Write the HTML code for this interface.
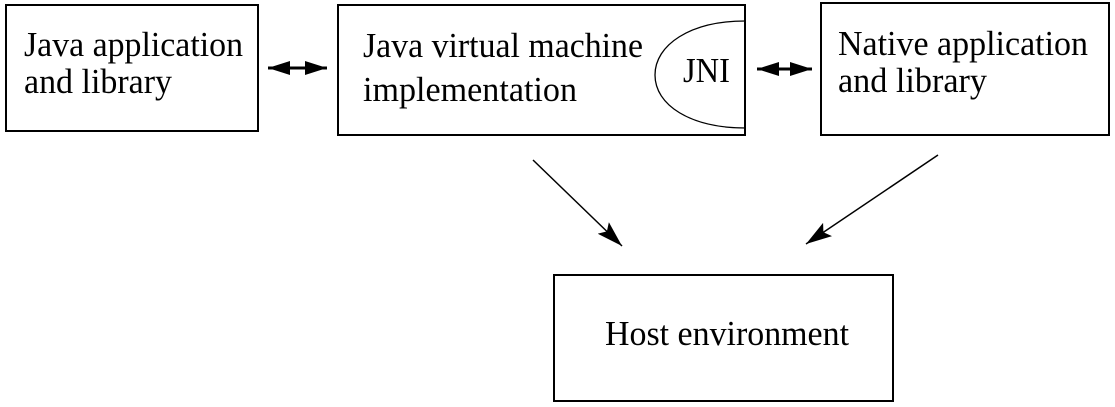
<!DOCTYPE html>
<html><head><meta charset="utf-8"><style>
html,body{margin:0;padding:0;background:#fff;}
svg{display:block;}
text{font-family:"Liberation Serif",serif;font-size:35px;fill:#000;}
</style></head><body>
<svg width="1115" height="407" viewBox="0 0 1115 407" xmlns="http://www.w3.org/2000/svg">
<defs>
<marker id="big" viewBox="0 0 26 16" refX="26" refY="8" markerWidth="26" markerHeight="16" orient="auto" markerUnits="userSpaceOnUse">
<path d="M0,0 L26,8 L0,16 L5,8 z" fill="#000"/>
</marker>
<marker id="dbl" viewBox="0 0 22 14" refX="22" refY="7" markerWidth="22" markerHeight="14" orient="auto-start-reverse" markerUnits="userSpaceOnUse">
<path d="M0,0 L22,7 L0,14 z" fill="#000"/>
</marker>
</defs>
<g fill="none" stroke="#000" stroke-width="2">
<rect x="6" y="5" width="252" height="126"/>
<rect x="338" y="5" width="407" height="130"/>
<rect x="821" y="3" width="288" height="132"/>
<rect x="554" y="275" width="339" height="126"/>
</g>
<path d="M745,21 C690,21 655,45 655,75 C655,105 690,128 746,128" fill="none" stroke="#000" stroke-width="1.3"/>
<line x1="268" y1="68" x2="327" y2="68" stroke="#000" stroke-width="3" marker-start="url(#dbl)" marker-end="url(#dbl)"/>
<line x1="757" y1="69" x2="812" y2="69" stroke="#000" stroke-width="3" marker-start="url(#dbl)" marker-end="url(#dbl)"/>
<line x1="533" y1="160" x2="622" y2="246" stroke="#000" stroke-width="1.5" marker-end="url(#big)"/>
<line x1="938" y1="155" x2="806" y2="244" stroke="#000" stroke-width="1.5" marker-end="url(#big)"/>
<text x="24" y="56" textLength="219" lengthAdjust="spacingAndGlyphs">Java application</text>
<text x="24" y="93" textLength="148" lengthAdjust="spacingAndGlyphs">and library</text>
<text x="363" y="57" textLength="280" lengthAdjust="spacingAndGlyphs">Java virtual machine</text>
<text x="363" y="101" textLength="214" lengthAdjust="spacingAndGlyphs">implementation</text>
<text x="683" y="82" textLength="47" lengthAdjust="spacingAndGlyphs">JNI</text>
<text x="838" y="55" textLength="250" lengthAdjust="spacingAndGlyphs">Native application</text>
<text x="838" y="92" textLength="149" lengthAdjust="spacingAndGlyphs">and library</text>
<text x="605" y="345" textLength="244" lengthAdjust="spacingAndGlyphs">Host environment</text>
</svg>
</body></html>
